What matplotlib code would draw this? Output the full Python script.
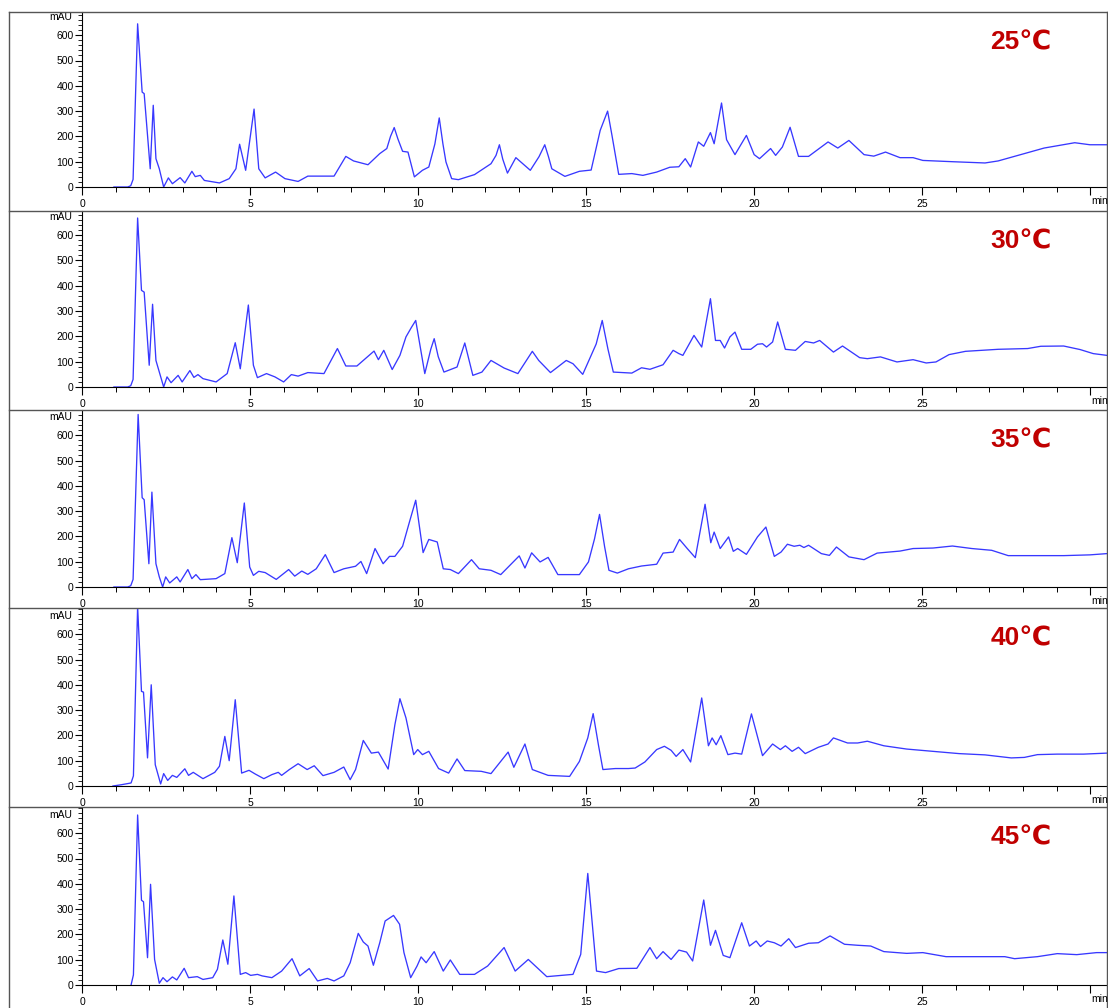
import matplotlib
matplotlib.use("Agg")
import matplotlib.pyplot as plt
from matplotlib.ticker import MultipleLocator
from matplotlib.lines import Line2D

plt.rcParams['font.family'] = ['Liberation Sans', 'DejaVu Sans']

# ---------------- data (retention time in min, absorbance in mAU) ----------------
temps = ["25℃", "30℃", "35℃", "40℃", "45℃"]
x_major = [0, 5, 10, 15, 20, 25, 30]
x_labels = ["0", "5", "10", "15", "20", "25", ""]
y_major = [0, 100, 200, 300, 400, 500, 600]

t25 = [0.95, 1.36, 1.45, 1.52, 1.655, 1.79, 1.85, 2.03, 2.12, 2.2, 2.3, 2.43, 2.57, 2.69, 2.92, 3.06,
       3.27, 3.37, 3.52, 3.64, 4.09, 4.38, 4.58, 4.69, 4.87, 5.12, 5.26, 5.45, 5.76, 6.04, 6.43,
       6.72, 7.5, 7.85, 8.08, 8.51, 8.86, 9.07, 9.18, 9.29, 9.4, 9.54, 9.7, 9.89, 10.13, 10.32, 10.5,
       10.63, 10.74, 10.83,
       11.0, 11.2, 11.68, 12.17, 12.32, 12.42, 12.52, 12.66, 12.91, 13.34, 13.6, 13.77, 13.88, 13.98,
       14.37, 14.8, 15.15, 15.42,
       15.64, 15.77, 15.97, 16.36, 16.69, 17.1, 17.49, 17.76, 17.95, 18.11, 18.34, 18.5, 18.7, 18.81,
       19.03, 19.18, 19.43, 19.77, 20.0, 20.16, 20.49, 20.64, 20.84, 21.07, 21.32, 21.62, 22.2, 22.49,
       22.82, 23.27, 23.56, 23.91, 24.34, 24.73, 25.02, 25.9, 26.87, 27.26, 28.04, 28.63, 29.54,
       29.99, 30.5]
v25 = [0, 0, 5, 30, 645, 375, 369, 72, 323, 112, 72, 0, 36, 13, 37, 16,
       62, 41, 46, 26, 16, 33, 72, 169, 66, 308, 72, 36, 59, 33, 22,
       43, 43, 121, 103, 88, 132, 152, 200, 235, 190, 141, 138, 40, 66, 79, 170,
       273, 170, 99,
       33, 29, 49, 92, 125, 167, 110, 55, 116, 66, 120, 167, 120, 72,
       42, 62, 67, 224,
       300, 204, 50, 53, 46, 59, 78, 80, 112, 79, 178, 161, 215, 171,
       332, 187, 128, 204, 128, 112, 152, 125, 158, 236, 121, 121, 178, 154,
       184, 128, 122, 138, 116, 116, 105, 100, 95, 103, 132, 154, 175,
       167, 167]

t30 = [0.95, 1.36, 1.45, 1.52, 1.655, 1.77, 1.85, 2.0, 2.1, 2.2, 2.43, 2.53, 2.65, 2.86, 2.98, 3.21,
       3.33, 3.45, 3.6, 3.99, 4.32, 4.56, 4.71, 4.95, 5.1, 5.22, 5.49, 5.74, 6.0, 6.23, 6.43,
       6.72, 7.2, 7.6, 7.85, 8.18, 8.69, 8.82, 8.98, 9.23, 9.46, 9.64, 9.8, 9.93, 10.05, 10.2, 10.38,
       10.48, 10.6, 10.77,
       11.16, 11.39, 11.63, 11.9, 12.17, 12.56, 12.97, 13.4, 13.59, 13.94, 14.41, 14.61, 14.9, 15.3,
       15.48, 15.65,
       15.81, 16.36, 16.65, 16.9, 17.29, 17.59, 17.76, 17.88, 18.21, 18.44, 18.7, 18.85, 18.99, 19.12,
       19.28, 19.43, 19.63, 19.9, 20.1, 20.25, 20.37, 20.55, 20.7, 20.93, 21.23, 21.52, 21.77, 21.95,
       22.36, 22.63, 23.14, 23.37, 23.76, 24.25, 24.73, 25.12, 25.41, 25.8, 26.29, 27.26, 28.14,
       28.53, 29.21, 29.7, 30.09, 30.5]
v30 = [0, 0, 5, 30, 668, 382, 375, 86, 327, 105, 0, 40, 17, 46, 20, 65,
       38, 49, 33, 20, 53, 175, 72, 324, 86, 37, 53, 40, 20, 49, 43,
       57, 53, 152, 83, 83, 142, 108, 145, 69, 125, 198, 235, 263, 170, 53, 150,
       191, 120, 59,
       79, 174, 46, 59, 105, 75, 53, 141, 105, 57, 105, 92, 50, 170,
       263, 150,
       59, 55, 76, 70, 88, 145, 132, 125, 204, 158, 349, 184, 184, 154,
       198, 217, 149, 149, 169, 171, 158, 178, 257, 149, 145, 180, 174, 184,
       138, 162, 116, 112, 119, 99, 108, 95, 99, 128, 141, 149, 152,
       161, 162, 148, 132, 125]

t35 = [0.95, 1.36, 1.45, 1.52, 1.67, 1.79, 1.85, 1.99, 2.08, 2.2, 2.3, 2.4, 2.49, 2.61, 2.82, 2.92,
       3.15, 3.27, 3.39, 3.52, 3.99, 4.25, 4.46, 4.62, 4.83, 4.99, 5.1, 5.26, 5.45, 5.78, 6.15,
       6.33, 6.54, 6.72, 6.97, 7.24, 7.5, 7.79, 8.14, 8.3, 8.47, 8.72, 8.96, 9.15, 9.31, 9.54, 9.75,
       9.93, 10.05, 10.15, 10.32, 10.57, 10.75, 10.96, 11.2, 11.59, 11.82, 12.17, 12.46, 13.01, 13.18,
       13.38, 13.63, 13.87, 14.16, 14.8, 15.07, 15.25, 15.4, 15.55, 15.68, 15.93, 16.26, 16.65, 17.1,
       17.29, 17.59, 17.78,
       18.01, 18.25, 18.54, 18.71, 18.81, 18.99, 19.24, 19.38, 19.51, 19.77, 20.1, 20.35, 20.6, 20.8,
       20.99, 21.19, 21.36, 21.48, 21.62, 22.0, 22.24, 22.45, 22.82, 23.27, 23.66, 24.34, 24.73,
       25.32, 25.9, 26.48, 27.07, 27.56, 28.24, 29.21, 29.99, 30.5]
v35 = [0, 0, 5, 30, 682, 353, 345, 92, 375, 92, 40, 0, 40, 16, 40, 20,
       69, 33, 49, 29, 33, 53, 195, 96, 332, 79, 46, 62, 57, 30, 69,
       43, 63, 50, 72, 128, 57, 72, 82, 101, 53, 152, 92, 121, 121, 161, 260,
       343, 230, 136, 188, 178, 72, 69, 53, 108, 72, 66, 49, 123, 75,
       135, 99, 117, 49, 49, 99, 190, 287, 160, 66, 55, 72, 83, 90,
       134, 138, 188,
       152, 116, 327, 175, 217, 152, 198, 141, 152, 129, 198, 237, 121, 138,
       169, 161, 165, 156, 165, 132, 125, 158, 119, 108, 134, 142, 152,
       154, 162, 152, 145, 124, 124, 124, 127, 132]

t40 = [0.92, 1.17, 1.46, 1.53, 1.655, 1.77, 1.83, 1.95, 2.06, 2.18, 2.34, 2.43, 2.55, 2.69, 2.82, 3.06,
       3.17, 3.31, 3.6, 3.95, 4.09, 4.25, 4.38, 4.56, 4.75, 4.97, 5.16, 5.41, 5.65, 5.84, 5.94,
       6.17, 6.43, 6.7, 6.91, 7.17, 7.5, 7.79, 7.98, 8.14, 8.37, 8.61, 8.82, 9.11, 9.31, 9.46,
       9.64, 9.87, 9.99, 10.13, 10.32, 10.61, 10.91, 11.16, 11.39, 11.88, 12.17, 12.68, 12.85, 13.18,
       13.4, 13.87, 14.51, 14.8, 15.05, 15.21, 15.37, 15.5, 15.87, 16.26, 16.46, 16.75, 17.1, 17.33,
       17.53, 17.68,
       17.88, 18.11, 18.44, 18.64, 18.75, 18.87, 19.01, 19.22, 19.43, 19.63, 19.92, 20.25, 20.55, 20.78,
       20.93, 21.13, 21.32, 21.52, 21.91, 22.2, 22.36, 22.78, 23.08, 23.37, 23.86, 24.54, 25.32,
       26.1, 26.87, 27.65, 28.04, 28.43, 29.02, 29.8, 30.5]
v40 = [0, 5, 12, 40, 710, 374, 371, 111, 400, 84, 8, 49, 22, 42, 34, 68,
       42, 54, 29, 54, 78, 196, 100, 341, 51, 62, 47, 29, 45, 54, 42,
       65, 88, 65, 80, 41, 54, 75, 25, 65, 180, 130, 134, 67, 242, 345,
       269, 124, 144, 124, 137, 69, 51, 107, 61, 58, 49, 134, 74, 166,
       65, 42, 38, 97, 190, 286, 160, 65, 69, 69, 71, 95, 144, 157,
       141, 117,
       144, 95, 348, 159, 190, 163, 199, 124, 130, 126, 285, 120, 166, 144,
       159, 137, 153, 128, 153, 166, 190, 170, 170, 177, 159, 146, 137,
       128, 123, 111, 113, 124, 126, 126, 130]

t45 = [1.46, 1.53, 1.655, 1.77, 1.83, 1.95, 2.04, 2.16, 2.3, 2.41, 2.53, 2.69, 2.82, 3.04, 3.17, 3.43,
       3.6, 3.89, 4.03, 4.19, 4.34, 4.52, 4.71, 4.87, 5.02, 5.22, 5.36, 5.65, 5.94, 6.25, 6.48,
       6.76, 7.01, 7.3, 7.5, 7.79, 7.98, 8.22, 8.37, 8.51, 8.67, 8.86, 9.02, 9.27, 9.45, 9.58,
       9.78, 9.97, 10.09, 10.24, 10.48, 10.75, 10.96, 11.24, 11.68, 12.07, 12.56, 12.89, 13.28, 13.83,
       14.61, 14.84, 15.05, 15.31, 15.58, 15.97, 16.51, 16.9, 17.1, 17.29, 17.53, 17.76, 17.99, 18.17,
       18.5, 18.7, 18.85, 19.08, 19.28, 19.63, 19.86, 20.06, 20.19, 20.39, 20.6, 20.8, 21.03, 21.23,
       21.62, 21.91, 22.26, 22.69, 23.08, 23.47, 23.86, 24.54, 25.02, 25.71, 26.68, 27.46, 27.75,
       28.43, 29.02, 29.6, 30.19, 30.5]
v45 = [0, 40, 672, 335, 329, 108, 398, 101, 7, 29, 13, 32, 20, 66, 29, 33,
       22, 29, 62, 178, 82, 352, 42, 49, 38, 42, 36, 29, 55, 104, 36,
       65, 16, 26, 16, 36, 88, 204, 170, 154, 78, 167, 253, 275, 240, 128,
       29, 75, 111, 88, 132, 55, 99, 42, 42, 75, 148, 55, 101, 33,
       42, 121, 441, 55, 49, 65, 66, 148, 104, 132, 101, 138, 130, 95,
       336, 157, 216, 117, 108, 246, 154, 174, 152, 174, 167, 154, 183, 148,
       165, 167, 194, 161, 157, 154, 132, 125, 128, 112, 112, 112, 104,
       112, 124, 120, 128, 128]

series = [(t25, v25), (t30, v30), (t35, v35), (t40, v40), (t45, v45)]

# ---------------- layout (pixels) ----------------
W, H = 1108, 1008
box_tops = [12, 211, 410, 608, 807]
zero_rows = [187, 387, 587, 786, 985]
ax_left, ax_right = 82, 1107
px_per_unit = 0.253

fig = plt.figure(figsize=(W / 100, H / 100), dpi=100)
fig.patch.set_facecolor("white")

line_color = "#3838ff"
for i, ((tt, vv), lab) in enumerate(zip(series, temps)):
    top, zero = box_tops[i], zero_rows[i]
    ax = fig.add_axes([ax_left / W, 1 - zero / H, (ax_right - ax_left) / W, (zero - top) / H])
    ax.plot(tt, vv, color=line_color, lw=0.95, solid_joinstyle="round")
    ax.set_xlim(0, 30.5)
    ax.set_ylim(0, (zero - top) / px_per_unit)
    for s in ("top", "right"):
        ax.spines[s].set_visible(False)
    for s in ("left", "bottom"):
        ax.spines[s].set_linewidth(0.8)
    ax.set_xticks(x_major)
    ax.set_xticklabels(x_labels)
    ax.xaxis.set_minor_locator(MultipleLocator(1))
    ax.set_yticks(y_major)
    ax.set_yticklabels([str(v) for v in y_major])
    ax.yaxis.set_minor_locator(MultipleLocator(20))
    ax.tick_params(axis="x", which="major", length=6, width=0.8, labelsize=7.5, pad=2.5)
    ax.tick_params(axis="x", which="minor", length=3.5, width=0.7)
    ax.tick_params(axis="y", which="major", length=5, width=0.8, labelsize=7.5, pad=1.0)
    ax.tick_params(axis="y", which="minor", length=3, width=0.6)
    ax.text(-10 / (ax_right - ax_left), 672, "mAU", transform=ax.get_yaxis_transform(),
            ha="right", va="center", fontsize=7.5)
    fig.text(1091 / W, 1 - (zero + 14) / H, "min", ha="left", va="center", fontsize=7.5)
    fig.text(1021 / W, 1 - (top + 30) / H, lab, ha="center", va="center",
             fontsize=19, fontweight="bold", color="#c00000")

# panel frames
frame_color = "#555555"
fig.add_artist(Line2D([9 / W, 9 / W], [1 - 12 / H, 0], transform=fig.transFigure, color=frame_color, lw=1.0))
fig.add_artist(Line2D([1107 / W, 1107 / W], [1 - 12 / H, 0], transform=fig.transFigure, color=frame_color, lw=1.0))
for top in box_tops:
    fig.add_artist(Line2D([9 / W, 1107 / W], [1 - top / H, 1 - top / H], transform=fig.transFigure,
                          color=frame_color, lw=1.0))

fig.savefig("out.png", dpi=100, facecolor="white")
